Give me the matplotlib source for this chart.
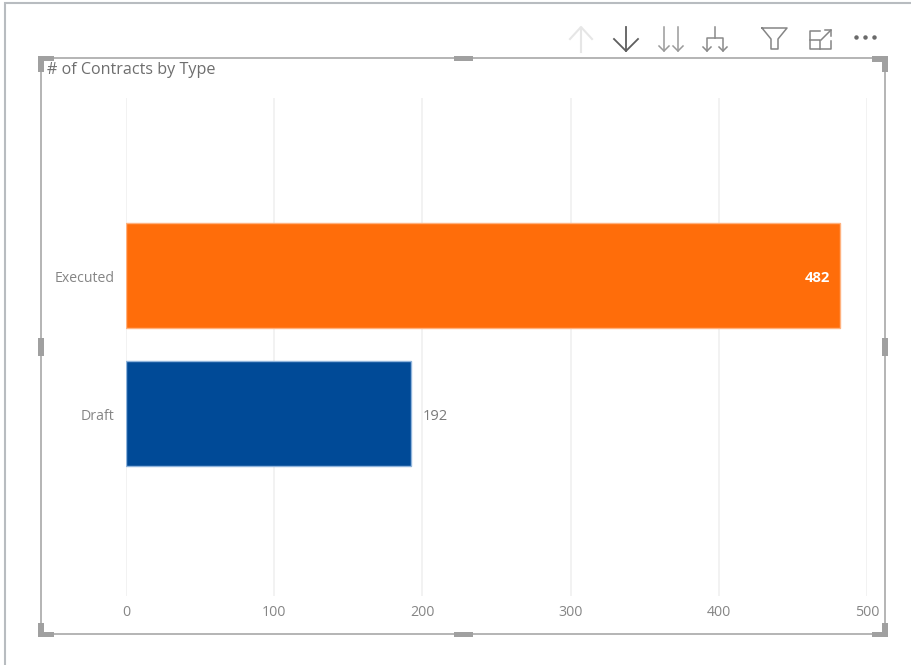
import matplotlib
matplotlib.use('Agg')
import matplotlib.pyplot as plt
from matplotlib.patches import Rectangle
from matplotlib.transforms import ScaledTranslation

plt.rcParams['font.family'] = ['Open Sans', 'DejaVu Sans']

# Data
types = ['Executed', 'Draft']
contracts = [482, 192]
bar_colors = ['#FF6D0A', '#004A97']
edge_colors = ['#FFB27F', '#8FB4DC']
x_ticks = [0, 100, 200, 300, 400, 500]

W, H = 911, 665
FRAME = '#A0A0A0'

fig = plt.figure(figsize=(W / 100, H / 100), dpi=100)


def pixel_axes(left, top, right, bottom):
    return fig.add_axes([left / W, 1 - bottom / H, (right - left) / W, (bottom - top) / H])


# Chart area
ax = pixel_axes(126, 98, 867, 596)
ax.barh(range(len(types)), contracts, height=0.76, color=bar_colors,
        edgecolor=edge_colors, linewidth=1, zorder=3)
ax.set_xlim(0, 500)
ax.set_ylim(2.322, -1.286)
ax.set_xticks(x_ticks)
ax.set_yticks(range(len(types)))
ax.set_yticklabels(types)
ax.grid(axis='x', color='#F0F0F0', linewidth=1.2, zorder=0)
ax.tick_params(axis='both', length=0, labelcolor='#858585', labelsize=10.2)
ax.tick_params(axis='x', pad=6.3)
ax.tick_params(axis='y', pad=8.5)
for s in ax.spines.values():
    s.set_visible(False)
ax.patch.set_alpha(0)

# nudge the category labels down a pixel
for lab in ax.get_yticklabels():
    lab.set_transform(lab.get_transform() + ScaledTranslation(0, -1 / 100, fig.dpi_scale_trans))

# Value labels
ax.text(contracts[0] - 7, 0.02, str(contracts[0]), color='white', fontsize=10.6,
        fontweight='bold', ha='right', va='center', zorder=4)
ax.text(contracts[1] + 8, 1.02, str(contracts[1]), color='#7A7A7A', fontsize=10.6,
        ha='left', va='center', zorder=4)

# Overlay in pixel coordinates for the report chrome
ov = fig.add_axes([0, 0, 1, 1], zorder=5)
ov.set_xlim(0, W)
ov.set_ylim(H, 0)
ov.axis('off')
ov.patch.set_alpha(0)

# Outer page border
ov.plot([5, 5, W], [H, 2.5, 2.5], color='#B8BCC0', lw=1.5, solid_joinstyle='miter')

# Visual frame and handles
ov.add_patch(Rectangle((41, 58), 844, 576, fill=False, ec=FRAME, lw=1.1))
for x, y, w, h in [(38, 56, 16, 5), (38, 56, 6, 16), (872, 56, 16, 6), (882, 56, 6, 16),
                   (38, 623, 6, 14), (38, 632, 16, 5), (872, 632, 16, 5), (882, 623, 6, 14),
                   (454, 56, 19, 5), (454, 632, 19, 5), (38, 338, 6, 18), (882, 338, 6, 18)]:
    ov.add_patch(Rectangle((x, y), w, h, fc=FRAME, ec='none'))

ov.text(47, 70.5, '# of Contracts by Type', fontsize=11.6, color='#6E6E6E', ha='left', va='center')

# Toolbar icons
up = dict(color='#E6E6E6', lw=1.5)
ov.plot([581, 581], [28, 52], **up)
ov.plot([570, 581, 592], [39, 27, 39], **up)

down = dict(color='#5E5E5E', lw=1.3)
ov.plot([626, 626], [27, 51], **down)
ov.plot([614, 626, 638], [39, 51, 39], **down)

dbl = dict(color='#9A9A9A', lw=1.1)
for x in (664, 678):
    ov.plot([x, x], [27, 51], **dbl)
    ov.plot([x - 5, x, x + 5], [46, 51, 46], **dbl)

tree = dict(color='#8A8A8A', lw=1.1)
ov.plot([715, 715], [27, 38], **tree)
ov.plot([707, 707, 723, 723], [51, 38, 38, 51], **tree)
for x in (707, 723):
    ov.plot([x - 4, x, x + 4], [47, 51, 47], **tree)

icon = dict(color='#858585', lw=1.1)
ov.plot([762, 787, 778, 778, 771, 771, 762], [28, 28, 39, 49, 49, 39, 28], **icon)
ov.plot([820, 810, 810, 831, 831], [31, 31, 49, 49, 41], **icon)
ov.plot([810, 820, 820], [40, 40, 49], **icon)
ov.plot([821, 831], [40, 30], **icon)
ov.plot([825, 831, 831], [30, 30, 36], **icon)
ov.plot([856, 865, 874], [37, 37, 37], ls='none', marker='o', ms=2.2, color='#6A6A6A')

fig.savefig('out.png', dpi=100, facecolor='white')
